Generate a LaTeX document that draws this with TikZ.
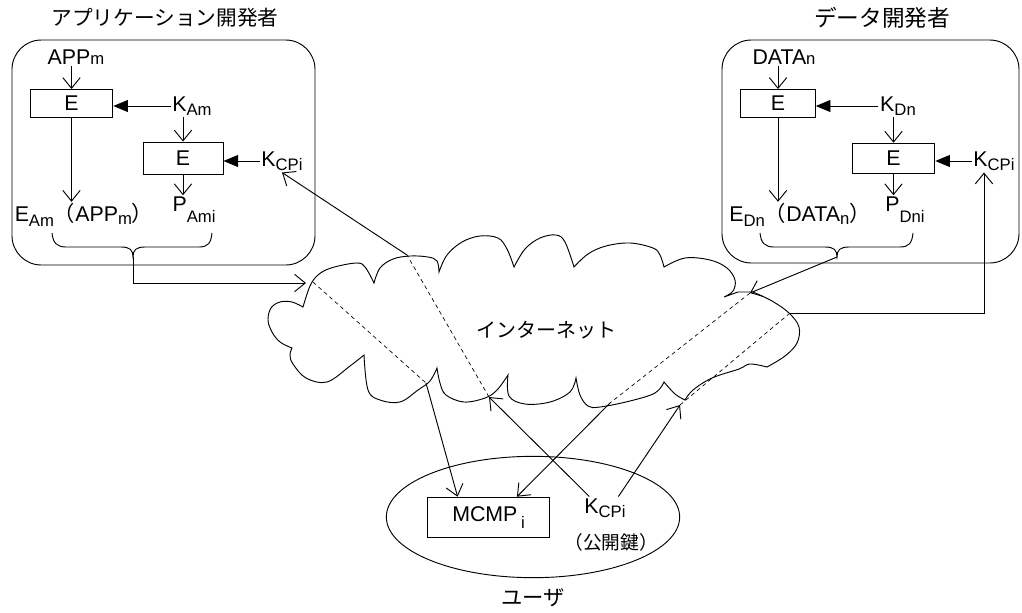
\documentclass[tikz,border=0pt]{standalone}
\usepackage{fontspec}
\setmainfont{Liberation Sans}
\newfontfamily\jp{Noto Sans CJK JP}
\usetikzlibrary{arrows.meta,calc,shapes.geometric}
\newcommand{\lo}[2][0.3ex]{\raisebox{-#1}{\fontsize{12.5pt}{12.5pt}\selectfont #2}}
\newcommand{\lpar}{{\jp （}}
\newcommand{\rpar}{{\jp ）}}
\begin{document}
\begin{tikzpicture}[x=0.75pt,y=-0.75pt,line width=0.7pt,
  lbl/.style={inner sep=1pt,font=\fontsize{16pt}{18pt}\selectfont},
  jplbl/.style={inner sep=1pt,font=\jp\fontsize{16pt}{18pt}\selectfont},
  ebox/.style={draw,lbl,minimum width=#1,minimum height=21pt},
  oa/.style={-{Straight Barb[length=8pt,width=13pt]}},
  fa/.style={-{Triangle[length=11pt,width=9pt]}},
  dl/.style={line width=0.5pt,dash pattern=on 3pt off 2.5pt},
  devbox/.style={rounded corners=22pt}]
\useasboundingbox (0,0) rectangle (1022,612);

% ---------- application developer ----------
\node[jplbl,font=\jp\fontsize{15.5pt}{17pt}\selectfont] (titA) at (165,18) {アプリケーション開発者};
\draw[devbox] (12,40) rectangle (315,265);
\node[lbl] (appm) at (76,57) {APP\lo[0pt]{m}};
\node[ebox=62pt] (e1) at (71.5,103.5) {E};
\node[lbl] (kam) at (192,106) {K\lo[0.4ex]{Am}};
\node[ebox=60pt,minimum height=24pt] (e2) at (183,158) {E};
\node[lbl] (kcpl) at (282,161) {K\lo[0.4ex]{CPi}};
\node[lbl] (eam) at (84,215) {E\lo[0.4ex]{Am}\lpar APP\lo[0.2ex]{m}\rpar};
\node[lbl] (pam) at (194,210) {P\lo[1ex]{Ami}};
\draw[oa] (e1.north |- appm.south) -- (e1.north);
\draw[fa] (kam.west) -- (kam.west -| e1.east);
\draw[oa] (e2.north |- kam.south) -- (e2.north);
\draw[fa] (kcpl.west) -- (kcpl.west -| e2.east);
\draw[oa] (e1.south) -- (e1.south |- eam.north);
\draw[oa] (e2.south) -- (e2.south |- pam.north);
\coordinate (lbt) at (133,257);
\draw (52,233) .. controls (53,243) and (57,247) .. (66,247) -- (121,247)
  .. controls (130,247) and (133,250) .. (lbt)
  .. controls (133,250) and (136,247) .. (145,247) -- (199,247)
  .. controls (208,247) and (211,243) .. (212,233);

% ---------- data developer ----------
\node[jplbl,font=\jp\fontsize{17pt}{19pt}\selectfont] (titD) at (882,18) {データ開発者};
\draw[devbox] (722,40) rectangle (1019,263);
\node[lbl] (datan) at (784,57) {DATA\lo[0pt]{n}};
\node[ebox=56pt] (e3) at (778,103.5) {E};
\node[lbl] (kdn) at (898,106) {K\lo[0.4ex]{Dn}};
\node[ebox=62pt,minimum height=23pt] (e4) at (893.5,158.5) {E};
\node[lbl] (kcpr) at (994,161) {K\lo[0.4ex]{CPi}};
\node[lbl] (edn) at (800,215) {E\lo[0.4ex]{Dn}\lpar DATA\lo[0.2ex]{n}\rpar};
\node[lbl] (pdn) at (905,210) {P\lo[1ex]{Dni}};
\draw[oa] (e3.north |- datan.south) -- (e3.north);
\draw[fa] (kdn.west) -- (kdn.west -| e3.east);
\draw[oa] (e4.north |- kdn.south) -- (e4.north);
\draw[fa] (kcpr.west) -- (kcpr.west -| e4.east);
\draw[oa] (e3.south) -- (e3.south |- edn.north);
\draw[oa] (e4.south) -- (e4.south |- pdn.north);
\coordinate (rbt) at (837,257);
\draw (760,233) .. controls (761,243) and (765,247) .. (774,247) -- (825,247)
  .. controls (834,247) and (837,250) .. (rbt)
  .. controls (837,250) and (840,247) .. (849,247) -- (900,247)
  .. controls (909,247) and (912,243) .. (913,233);

% ---------- cloud ----------
\draw plot[smooth,tension=0.6] coordinates {(303,307)(310,286)(318,275)(331,268)(356,263)(365,267)(374,283)}
  -- plot[smooth,tension=0.6] coordinates {(374,283)(380,268)(393,259)(410,256)(428,257)(437,261)(439,272)}
  -- plot[smooth,tension=0.6] coordinates {(439,272)(447,255)(462,242)(480,236)(498,238)(507,249)(514,267)}
  -- plot[smooth,tension=0.6] coordinates {(514,267)(525,249)(540,238)(556,235)(565,242)(574,267)}
  -- plot[smooth,tension=0.6] coordinates {(574,267)(588,254)(606,246)(630,243)(653,248)(660,255)(664,267)}
  -- plot[smooth,tension=0.6] coordinates {(664,267)(685,258)(710,260)(727,268)(735,280)(733,291)(724,297)}
  -- (738,292) -- (753,292)
  -- plot[smooth,tension=0.6] coordinates {(753,292)(772,301)(789,313)(799,327)(797,343)(785,356)(767,367)}
  -- plot[smooth,tension=0.6] coordinates {(767,367)(750,364)(739,369)(712,378)(693,390)(685,400)}
  -- plot[smooth,tension=0.6] coordinates {(685,400)(675,394)(664,382)}
  -- plot[smooth,tension=0.6] coordinates {(664,382)(655,393)(630,401)(600,407)(588,406)(580,395)(576,378)}
  -- plot[smooth,tension=0.6] coordinates {(576,378)(570,392)(550,402)(525,404)(509,396)(508,375)}
  -- plot[smooth,tension=0.6] coordinates {(508,375)(497,390)(485,398)(464,402)(446,395)(440,383)(437,368)}
  -- plot[smooth,tension=0.6] coordinates {(437,368)(430,381)(418,390)(400,402)(380,400)(368,390)(364,355)}
  -- plot[smooth,tension=0.6] coordinates {(364,355)(350,366)(327,382)(306,378)(293,364)(290,355)(292,348)}
  -- plot[smooth,tension=0.6] coordinates {(292,348)(280,342)(272,332)(268,320)(271,308)(280,302)(292,302)(303,307)}
  -- cycle;
\node[inner sep=1pt,font=\jp\fontsize{15pt}{17pt}\selectfont] (net) at (546,330) {インターネット};

% ---------- user ----------
\node[draw,ellipse,minimum width=220pt,minimum height=91pt,inner sep=0pt] (user) at (533,517) {};
\node[draw,lbl,minimum width=92pt,minimum height=30.5pt] (mcmp) at (488.5,517.5) {MCMP\,\lo[0.6ex]{i}};
\node[lbl] (kcpu) at (605,508) {K\lo[0.4ex]{CPi}};
\node[inner sep=1pt,font=\jp\fontsize{14pt}{16pt}\selectfont] (key) at (611,542) {（公開鍵）};
\node[jplbl] (usr) at (533,598) {ユーザ};

% ---------- connectors through the internet ----------
\coordinate (aIn) at (306,283);
\coordinate (d1a) at (313,282);
\coordinate (d1b) at (426,383);
\coordinate (d2a) at (407,255);
\coordinate (d2b) at (489,397);
\coordinate (d3a) at (750,293);
\coordinate (d3b) at (610,403);
\coordinate (d4a) at (790,313);
\coordinate (d4b) at (680,405);
\coordinate (rc) at (984,313);

\draw[oa] (lbt) |- (aIn);
\draw[dl] (d1a) -- (d1b);
\draw[oa] (d1b) -- ($(mcmp.north west)!0.25!(mcmp.north east)$);

\draw[oa] ($(kcpu.north west)!0.15!(kcpu.north east)$) -- (d2b);
\draw[dl] (d2b) -- (d2a);
\draw[oa] (d2a) -- (kcpl.south);

\draw[oa] (rbt) -- (d3a);
\draw[dl] (d3a) -- (d3b);
\draw[oa] (d3b) -- ($(mcmp.north west)!0.73!(mcmp.north east)$);

\draw[oa] ($(kcpu.north west)!0.8!(kcpu.north east)$) -- (d4b);
\draw[dl] (d4b) -- (d4a);
\draw[oa] (d4a) -- (rc) -- (rc |- kcpr.south);
\end{tikzpicture}
\end{document}
